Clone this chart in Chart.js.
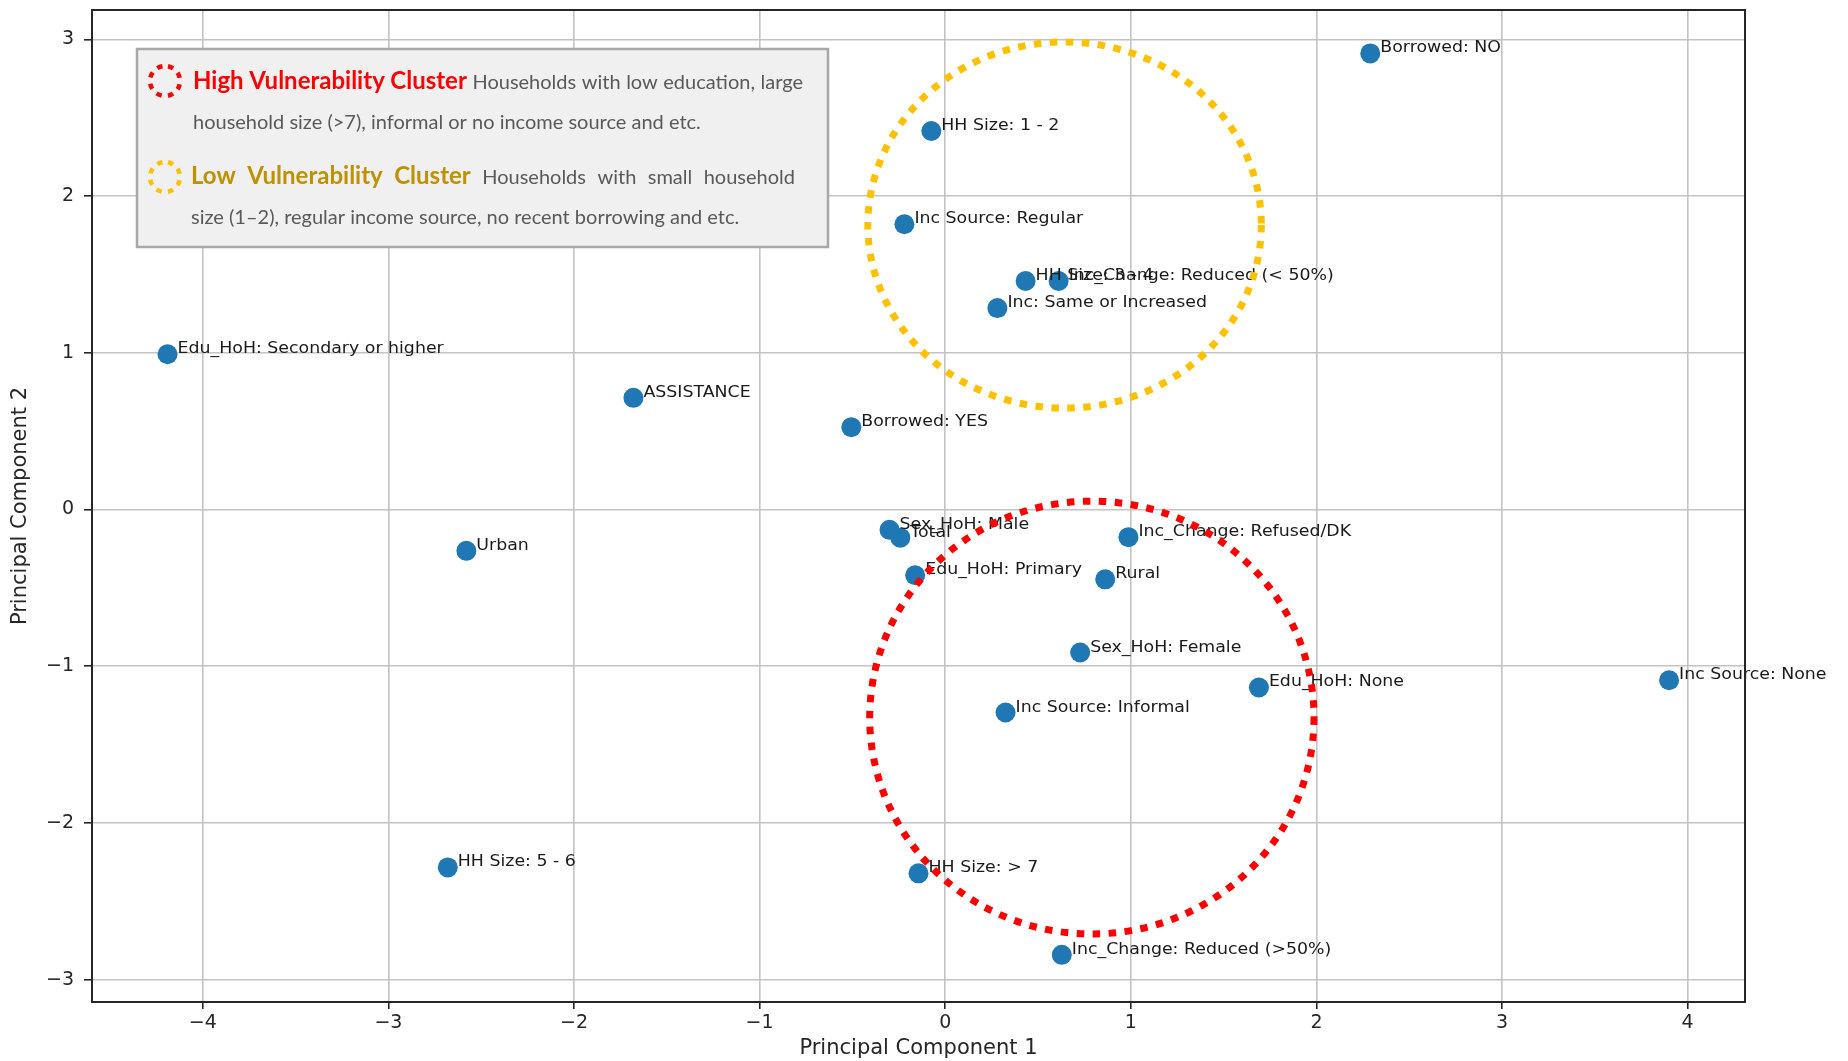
<!DOCTYPE html>
<html>
<head>
<meta charset="utf-8">
<title>PCA clusters</title>
<script src="https://cdn.jsdelivr.net/npm/chart.js@4.4.1/dist/chart.umd.min.js"></script>
<style>
  html, body { margin: 0; padding: 0; background: #ffffff; }
  #wrap { width: 1848px; height: 1061px; }
</style>
</head>
<body>
<div id="wrap"><canvas id="pcaChart" width="1848" height="1061"></canvas></div>
<script>
// Category labels and the two principal components
const labels = [
  "Borrowed: NO",
  "HH Size: 1 - 2",
  "Inc Source: Regular",
  "HH Size: 3 - 4",
  "Inc_Change: Reduced (< 50%)",
  "Inc: Same or Increased",
  "Edu_HoH: Secondary or higher",
  "ASSISTANCE",
  "Borrowed: YES",
  "Sex_HoH: Male",
  "Total",
  "Inc_Change: Refused/DK",
  "Urban",
  "Edu_HoH: Primary",
  "Rural",
  "Sex_HoH: Female",
  "Edu_HoH: None",
  "Inc Source: None",
  "Inc Source: Informal",
  "HH Size: 5 - 6",
  "HH Size: > 7",
  "Inc_Change: Reduced (>50%)"
];
const pc1 = [2.29, -0.075, -0.22, 0.433, 0.611, 0.281, -4.19, -1.68, -0.506, -0.30, -0.242,
  0.987, -2.58, -0.162, 0.862, 0.727, 1.69, 3.90, 0.325, -2.68, -0.144, 0.628];
const pc2 = [2.91, 2.415, 1.82, 1.458, 1.458, 1.285, 0.99, 0.712, 0.525, -0.13, -0.18,
  -0.177, -0.264, -0.42, -0.446, -0.913, -1.136, -1.09, -1.296, -2.284, -2.322, -2.842];

// Axis limits (matplotlib style 5% margins)
const xLimits = [-4.597, 4.309];
const yLimits = [-3.143, 3.187];

// Cluster outlines in data units: [centre x, centre y, radius x, radius y]
const clusterHigh = [0.79, -1.328, 1.197, 1.381];
const clusterLow = [0.643, 1.815, 1.06, 1.168];

// Legend texts
const highTitle = "High Vulnerability Cluster";
const highLine1 = "Households with low education, large";
const highLine2 = "household size (>7), informal or no income source and etc.";
const lowTitle = "Low  Vulnerability  Cluster";
const lowLine1 = "Households  with  small  household";
const lowLine2 = "size (1\u20132), regular income source, no recent borrowing and etc.";

/**
 * Formats tick values the matplotlib way (unicode minus).
 */
function tickLabel(value){
  if (value < 0) { return "\u2212" + Math.abs(value); }
  return String(value);
}

/**
 * Strokes a dotted ellipse given in data units.
 */
function drawCluster(chart, spec, color){
  const ctx = chart.ctx;
  const xs = chart.scales.x;
  const ys = chart.scales.y;
  const cx = xs.getPixelForValue(spec[0]);
  const cy = ys.getPixelForValue(spec[1]);
  const rx = Math.abs(xs.getPixelForValue(spec[0] + spec[2]) - cx);
  const ry = Math.abs(ys.getPixelForValue(spec[1] + spec[3]) - cy);
  ctx.save();
  ctx.strokeStyle = color;
  ctx.lineWidth = 7;
  ctx.setLineDash([7.5, 8.5]);
  ctx.beginPath();
  ctx.ellipse(cx, cy, rx, ry, 0, 0, Math.PI * 2);
  ctx.stroke();
  ctx.restore();
}

/**
 * Small dotted circle used as legend symbol.
 */
function drawLegendIcon(ctx, x, y, color){
  ctx.save();
  ctx.strokeStyle = color;
  ctx.lineWidth = 4.5;
  ctx.setLineDash([5.5, 6.3]);
  ctx.beginPath();
  ctx.arc(x, y, 15, -Math.PI / 2 + 0.2, Math.PI * 1.5 + 0.2);
  ctx.stroke();
  ctx.restore();
}

/**
 * Draws the words of one line spread out so that it ends at xEnd.
 */
function drawJustified(ctx, parts, xStart, xEnd, y){
  let words = [];
  parts.forEach(function(p){
    p.text.split(/\s+/).forEach(function(w){
      words.push({text: w, font: p.font, color: p.color});
    });
  });
  let total = 0;
  words.forEach(function(w){ ctx.font = w.font; w.width = ctx.measureText(w.text).width; total += w.width; });
  const gap = (xEnd - xStart - total) / (words.length - 1);
  let x = xStart;
  words.forEach(function(w){
    ctx.font = w.font;
    ctx.fillStyle = w.color;
    ctx.fillText(w.text, x, y);
    x += w.width + gap;
  });
}

/**
 * Grey box in the upper left with the two cluster descriptions.
 */
function drawLegendBox(ctx){
  const boldFont = "bold 24px Lato";
  const textFont = "20px Lato";
  const grey = "#595959";
  ctx.save();
  ctx.fillStyle = "#f0f0f0";
  ctx.fillRect(137, 49, 691, 198);
  ctx.strokeStyle = "#a8a8a8";
  ctx.lineWidth = 2.5;
  ctx.strokeRect(137, 49, 691, 198);

  drawLegendIcon(ctx, 165, 81, "#ff0000");
  drawLegendIcon(ctx, 165, 177, "#ffc000");

  ctx.textBaseline = "alphabetic";
  ctx.textAlign = "left";
  drawJustified(ctx, [
    {text: highTitle, font: boldFont, color: "#ff0000"},
    {text: highLine1, font: textFont, color: grey}
  ], 193, 803, 89);
  ctx.font = textFont;
  ctx.fillStyle = grey;
  ctx.fillText(highLine2, 193, 129);

  drawJustified(ctx, [
    {text: lowTitle, font: boldFont, color: "#bf9000"},
    {text: lowLine1, font: textFont, color: grey}
  ], 191, 795, 184);
  ctx.font = textFont;
  ctx.fillStyle = grey;
  ctx.fillText(lowLine2, 191, 224);
  ctx.restore();
}

// Plugin: point labels, cluster outlines, legend box and the frame
const overlayPlugin = {
  id: "overlay",
  afterDatasetsDraw(chart){
    const ctx = chart.ctx;
    const meta = chart.getDatasetMeta(0);
    ctx.save();
    ctx.font = "15.5px 'DejaVu Sans'";
    ctx.fillStyle = "#1a1a1a";
    ctx.textBaseline = "alphabetic";
    ctx.textAlign = "left";
    meta.data.forEach(function(pt, i){
      // the source figure is slightly wider than tall, stretch the text a bit
      ctx.save();
      ctx.translate(pt.x + 10, pt.y - 1);
      ctx.scale(1.12, 1);
      ctx.fillText(labels[i], 0, 0);
      ctx.restore();
    });
    ctx.restore();

    drawCluster(chart, clusterLow, "#ffc000");
    drawCluster(chart, clusterHigh, "#ff0000");
    drawLegendBox(ctx);
  },
  afterDraw(chart){
    const a = chart.chartArea;
    const ctx = chart.ctx;
    ctx.save();
    ctx.strokeStyle = "#262626";
    ctx.lineWidth = 2;
    ctx.strokeRect(a.left, a.top, a.right - a.left, a.bottom - a.top);
    ctx.restore();
  }
};

Chart.defaults.font.family = "'DejaVu Sans', sans-serif";
Chart.defaults.color = "#262626";

const points = pc1.map((x, i) => ({x: x, y: pc2[i]}));

new Chart(document.getElementById("pcaChart"), {
  type: "scatter",
  data: {
    datasets: [{
      data: points,
      backgroundColor: "#1f77b4",
      borderWidth: 0,
      pointRadius: 10,
      pointHoverRadius: 10
    }]
  },
  options: {
    responsive: false,
    animation: false,
    devicePixelRatio: 1,
    events: [],
    layout: { padding: { top: 8, right: 103, left: 0, bottom: 0 } },
    plugins: { legend: { display: false }, tooltip: { enabled: false } },
    scales: {
      x: {
        type: "linear",
        min: xLimits[0],
        max: xLimits[1],
        afterFit: function(scale){
          scale.height = 59;
          scale.paddingLeft = 0;
          scale.paddingRight = 0;
        },
        border: { display: false },
        grid: { color: "#c3c3c3", lineWidth: 1.6, tickLength: 7, tickColor: "#262626", tickWidth: 1.6 },
        ticks: {
          stepSize: 1,
          includeBounds: false,
          padding: 3,
          font: { size: 19 },
          maxRotation: 0,
          callback: tickLabel
        },
        title: {
          display: true,
          text: "Principal Component 1",
          font: { size: 21 },
          padding: { top: 0, bottom: 0 }
        }
      },
      y: {
        type: "linear",
        min: yLimits[0],
        max: yLimits[1],
        afterFit: function(scale){
          scale.width = 92;
          scale.paddingTop = 0;
          scale.paddingBottom = 0;
        },
        border: { display: false },
        grid: { color: "#c3c3c3", lineWidth: 1.6, tickLength: 8, tickColor: "#262626", tickWidth: 1.6 },
        ticks: {
          stepSize: 1,
          includeBounds: false,
          padding: 10,
          font: { size: 19 },
          callback: tickLabel
        },
        title: {
          display: true,
          text: "Principal Component 2",
          font: { size: 21 },
          padding: { top: 8, bottom: 0 }
        }
      }
    }
  },
  plugins: [overlayPlugin]
});
</script>
</body>
</html>
